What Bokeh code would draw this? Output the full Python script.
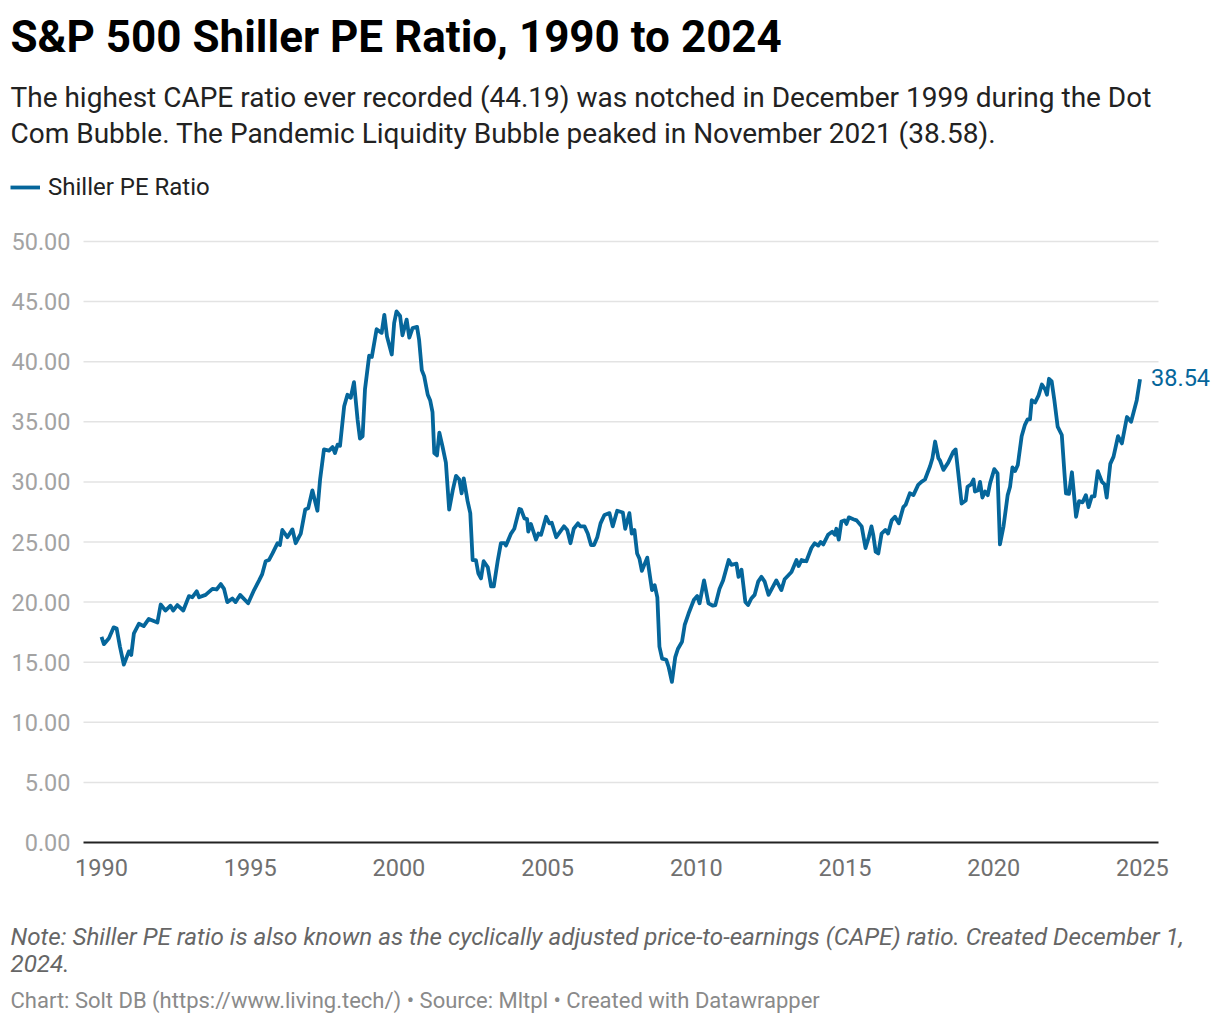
from bokeh.plotting import figure
from bokeh.models import (Range1d, FixedTicker, Label, Legend, LegendItem,
                          ColumnDataSource, PrintfTickFormatter, LinearAxis)
from bokeh.embed import file_html
from bokeh.resources import INLINE

# ---- data ----
dates = [
    1990.00, 1990.08, 1990.25, 1990.41, 1990.51, 1990.62, 1990.75, 1990.92, 1991.00, 1991.09,
    1991.26, 1991.42, 1991.59, 1991.88, 1991.99, 1992.15, 1992.32, 1992.41, 1992.55, 1992.75,
    1992.94, 1993.05, 1993.20, 1993.28, 1993.50, 1993.73, 1993.87, 1994.01, 1994.12, 1994.23,
    1994.40, 1994.51, 1994.66, 1994.93, 1995.13, 1995.30, 1995.40, 1995.52, 1995.63, 1995.75,
    1995.92, 1996.00, 1996.08, 1996.25, 1996.42, 1996.53, 1996.70, 1996.85, 1996.95, 1997.09,
    1997.26, 1997.35, 1997.48, 1997.65, 1997.77, 1997.85, 1997.94, 1998.02, 1998.16, 1998.27,
    1998.38, 1998.49, 1998.61, 1998.69, 1998.78, 1998.86, 1999.00, 1999.09, 1999.25, 1999.42,
    1999.51, 1999.60, 1999.76, 1999.84, 1999.92, 2000.04, 2000.12, 2000.26, 2000.35, 2000.46,
    2000.61, 2000.68, 2000.77, 2000.85, 2000.97, 2001.05, 2001.13, 2001.19, 2001.28, 2001.36,
    2001.47, 2001.58, 2001.69, 2001.81, 2001.92, 2002.03, 2002.11, 2002.18, 2002.31, 2002.40,
    2002.48, 2002.59, 2002.67, 2002.76, 2002.85, 2002.99, 2003.10, 2003.19, 2003.32, 2003.43,
    2003.55, 2003.60, 2003.77, 2003.88, 2004.05, 2004.11, 2004.22, 2004.31, 2004.35, 2004.44,
    2004.61, 2004.69, 2004.78, 2004.95, 2005.06, 2005.14, 2005.29, 2005.55, 2005.66, 2005.77,
    2005.88, 2006.02, 2006.10, 2006.24, 2006.35, 2006.46, 2006.56, 2006.67, 2006.78, 2006.91,
    2007.08, 2007.19, 2007.34, 2007.53, 2007.61, 2007.75, 2007.83, 2007.92, 2008.01, 2008.09,
    2008.17, 2008.35, 2008.51, 2008.60, 2008.69, 2008.76, 2008.85, 2008.99, 2009.07, 2009.18,
    2009.29, 2009.38, 2009.52, 2009.61, 2009.74, 2009.92, 2010.03, 2010.11, 2010.26, 2010.41,
    2010.56, 2010.64, 2010.78, 2010.90, 2011.09, 2011.18, 2011.35, 2011.42, 2011.52, 2011.65,
    2011.74, 2011.85, 2011.96, 2012.08, 2012.19, 2012.30, 2012.43, 2012.69, 2012.86, 2012.97,
    2013.20, 2013.37, 2013.44, 2013.54, 2013.70, 2013.87, 2013.98, 2014.10, 2014.18, 2014.27,
    2014.43, 2014.57, 2014.66, 2014.71, 2014.79, 2014.88, 2014.99, 2015.05, 2015.13, 2015.28,
    2015.39, 2015.56, 2015.69, 2015.80, 2015.89, 2015.95, 2016.03, 2016.12, 2016.23, 2016.36,
    2016.45, 2016.57, 2016.68, 2016.81, 2016.96, 2017.04, 2017.18, 2017.30, 2017.46, 2017.57,
    2017.69, 2017.86, 2017.94, 2018.03, 2018.14, 2018.19, 2018.31, 2018.47, 2018.64, 2018.72,
    2018.81, 2018.92, 2019.06, 2019.12, 2019.24, 2019.32, 2019.37, 2019.48, 2019.54, 2019.62,
    2019.71, 2019.80, 2019.88, 2020.02, 2020.13, 2020.21, 2020.33, 2020.47, 2020.55, 2020.63,
    2020.72, 2020.81, 2020.94, 2021.05, 2021.14, 2021.22, 2021.28, 2021.39, 2021.51, 2021.62,
    2021.73, 2021.79, 2021.86, 2021.95, 2022.04, 2022.15, 2022.29, 2022.38, 2022.43, 2022.53,
    2022.63, 2022.77, 2022.87, 2022.99, 2023.10, 2023.19, 2023.30, 2023.39, 2023.50, 2023.64,
    2023.73, 2023.80, 2023.92, 2024.03, 2024.18, 2024.31, 2024.48, 2024.62, 2024.81, 2024.92,
]
cape = [
    17.1, 16.5, 17.0, 17.9, 17.8, 16.3, 14.8, 15.9, 15.6, 17.4,
    18.2, 18.0, 18.6, 18.3, 19.8, 19.3, 19.7, 19.3, 19.75, 19.3,
    20.5, 20.4, 20.9, 20.4, 20.6, 21.1, 21.05, 21.5, 21.1, 20.0,
    20.3, 20.0, 20.6, 19.9, 21.0, 21.8, 22.3, 23.4, 23.5, 24.05,
    24.9, 24.75, 26.0, 25.4, 26.05, 24.9, 25.7, 27.7, 27.8, 29.3,
    27.6, 30.2, 32.7, 32.6, 32.9, 32.4, 33.1, 33.0, 36.3, 37.25,
    37.0, 38.3, 35.2, 33.6, 33.8, 37.7, 40.5, 40.4, 42.7, 42.4,
    43.9, 42.1, 40.6, 43.2, 44.19, 43.8, 42.2, 43.5, 42.0, 42.8,
    42.9, 41.8, 39.3, 38.8, 37.25, 36.8, 35.8, 32.4, 32.2, 34.1,
    32.9, 31.6, 27.7, 29.3, 30.5, 30.2, 29.05, 30.3, 28.4, 27.4,
    23.5, 23.5, 22.4, 21.97, 23.4, 22.9, 21.3, 21.3, 23.4, 24.9,
    24.9, 24.7, 25.7, 26.1, 27.75, 27.7, 26.97, 26.9, 25.86, 26.5,
    25.2, 25.7, 25.6, 27.1, 26.55, 26.6, 25.4, 26.3, 26.0, 24.9,
    26.1, 26.55, 26.3, 26.3, 25.7, 24.75, 24.75, 25.4, 26.55, 27.25,
    27.4, 26.3, 27.6, 27.45, 26.1, 27.4, 25.7, 26.0, 24.05, 23.6,
    22.6, 23.7, 21.0, 21.4, 20.4, 16.3, 15.3, 15.2, 14.6, 13.36,
    15.4, 16.1, 16.7, 18.1, 19.05, 20.2, 20.5, 19.9, 21.8, 19.9,
    19.7, 19.75, 21.1, 21.8, 23.5, 23.1, 23.2, 22.1, 22.7, 20.0,
    19.75, 20.3, 20.6, 21.7, 22.1, 21.7, 20.6, 21.8, 21.0, 21.9,
    22.5, 23.5, 23.0, 23.5, 23.4, 24.5, 24.9, 24.7, 25.0, 24.8,
    25.6, 25.86, 25.6, 26.1, 25.2, 26.7, 26.8, 26.5, 27.05, 26.9,
    26.8, 26.3, 24.5, 25.4, 26.3, 25.6, 24.2, 24.05, 25.7, 26.0,
    25.7, 26.8, 27.1, 26.55, 27.9, 28.1, 29.05, 28.9, 29.75, 30.0,
    30.2, 31.3, 31.97, 33.36, 31.97, 31.8, 31.0, 31.6, 32.5, 32.7,
    30.7, 28.2, 28.45, 29.6, 29.8, 30.2, 29.2, 29.3, 30.0, 28.7,
    29.2, 28.9, 29.9, 31.06, 30.7, 24.8, 26.3, 28.9, 29.6, 31.2,
    30.9, 31.4, 33.8, 34.75, 35.2, 35.2, 36.8, 36.6, 37.2, 38.1,
    37.7, 37.25, 38.58, 38.36, 36.8, 34.6, 33.9, 30.7, 29.05, 29.0,
    30.8, 27.1, 28.4, 28.3, 28.9, 27.9, 28.8, 28.8, 30.9, 30.0,
    29.8, 28.7, 31.5, 32.1, 33.8, 33.2, 35.4, 35.0, 36.8, 38.54,
]
x_ticks = [1990, 1995, 2000, 2005, 2010, 2015, 2020, 2025]
y_ticks = [0, 5, 10, 15, 20, 25, 30, 35, 40, 45, 50]
series_name = "Shiller PE Ratio"

title_text = "S&P 500 Shiller PE Ratio, 1990 to 2024"
subtitle_lines = [
    "The highest CAPE ratio ever recorded (44.19) was notched in December 1999 during the Dot",
    "Com Bubble. The Pandemic Liquidity Bubble peaked in November 2021 (38.58).",
]
note_lines = [
    "Note: Shiller PE ratio is also known as the cyclically adjusted price-to-earnings (CAPE) ratio. Created December 1,",
    "2024.",
]
footer_text = "Chart: Solt DB (https://www.living.tech/) \u2022 Source: Mltpl \u2022 Created with Datawrapper"

# ---- layout / styles ----
FONT = "Roboto"
LINE_COLOR = "#05669b"
W, H = 1220, 1024
PX_YEAR = 29.74          # horizontal pixels per year
PX_UNIT = 12.02          # vertical pixels per ratio unit
X_1990, Y_ZERO = 101, 842  # pixel position of year 1990 and of value 0
PLOT_LEFT, PLOT_RIGHT = 83, 1158

def year_at(px):
    return 1990 + (px - X_1990) / PX_YEAR

def value_at(py):
    return (Y_ZERO - py) / PX_UNIT

p = figure(width=W, height=H, output_backend="svg", toolbar_location=None,
           x_range=Range1d(year_at(0), year_at(W)), y_range=Range1d(value_at(H), value_at(0)),
           x_axis_location=None, y_axis_location=None,
           min_border=0, min_border_left=0, min_border_right=0,
           min_border_top=0, min_border_bottom=0)
p.outline_line_color = None
p.background_fill_color = "white"
p.border_fill_color = "white"
p.xgrid.grid_line_color = None
p.ygrid.grid_line_color = None

# horizontal gridlines
grid_y = y_ticks[1:]
x_lo, x_hi = year_at(PLOT_LEFT), year_at(PLOT_RIGHT)
p.segment(x0=[x_lo] * len(grid_y), y0=grid_y, x1=[x_hi] * len(grid_y), y1=grid_y,
          line_color="#e3e3e3", line_width=1.5, level="underlay")
p.segment(x0=[x_lo], y0=[0], x1=[x_hi], y1=[0], line_color="#222222", line_width=2.2)

src = ColumnDataSource(dict(x=dates, y=cape))
ln = p.line("x", "y", source=src, line_color=LINE_COLOR, line_width=3.8, line_join="round")

# axes drawn at fixed locations inside the canvas
xax = LinearAxis(fixed_location=0, ticker=FixedTicker(ticks=x_ticks))
yax = LinearAxis(fixed_location=x_lo, ticker=FixedTicker(ticks=y_ticks),
                 formatter=PrintfTickFormatter(format="%.2f"))
for ax in (xax, yax):
    ax.axis_line_color = None
    ax.major_tick_line_color = None
    ax.minor_tick_line_color = None
    ax.major_tick_in = 0
    ax.major_tick_out = 0
    ax.minor_tick_in = 0
    ax.minor_tick_out = 0
    ax.major_label_text_font = FONT
    ax.major_label_text_font_size = "23.5px"
yax.major_label_text_color = "#a3a3a3"
yax.major_label_standoff = 13
xax.major_label_text_color = "#707070"
xax.major_label_standoff = 16
p.add_layout(xax, "below")
p.add_layout(yax, "left")

# end value label
p.add_layout(Label(x=dates[-1], y=cape[-1], x_offset=11, y_offset=2, text=f"{cape[-1]:.2f}",
                   text_font=FONT, text_font_size="23.5px", text_color=LINE_COLOR,
                   text_baseline="middle", text_align="left"))

def add_text(txt, px, py, size, color, style="normal"):
    p.add_layout(Label(x=px, y=H - py, x_units="screen", y_units="screen", text=txt,
                       text_font=FONT, text_font_size=size, text_color=color,
                       text_font_style=style, text_baseline="middle", text_align="left"))

add_text(title_text, 10, 36, "44px", "#000000", "bold")
add_text(subtitle_lines[0], 10, 97, "28px", "#222222")
add_text(subtitle_lines[1], 10, 133, "28px", "#222222")
add_text(note_lines[0], 10, 936, "24.2px", "#666666", "italic")
add_text(note_lines[1], 10, 963, "24.2px", "#666666", "italic")
add_text(footer_text, 10, 1000, "22px", "#8a8a8a")

legend = Legend(items=[LegendItem(label=series_name, renderers=[ln])],
                location=(10, H - 201), orientation="horizontal",
                label_text_font=FONT, label_text_font_size="24px", label_text_color="#222222",
                glyph_width=30, glyph_height=26, label_height=26, label_standoff=8,
                padding=0, margin=0, spacing=0,
                border_line_color=None, background_fill_alpha=0)
p.add_layout(legend, "center")

open("out.html", "w").write(file_html(p, INLINE))
